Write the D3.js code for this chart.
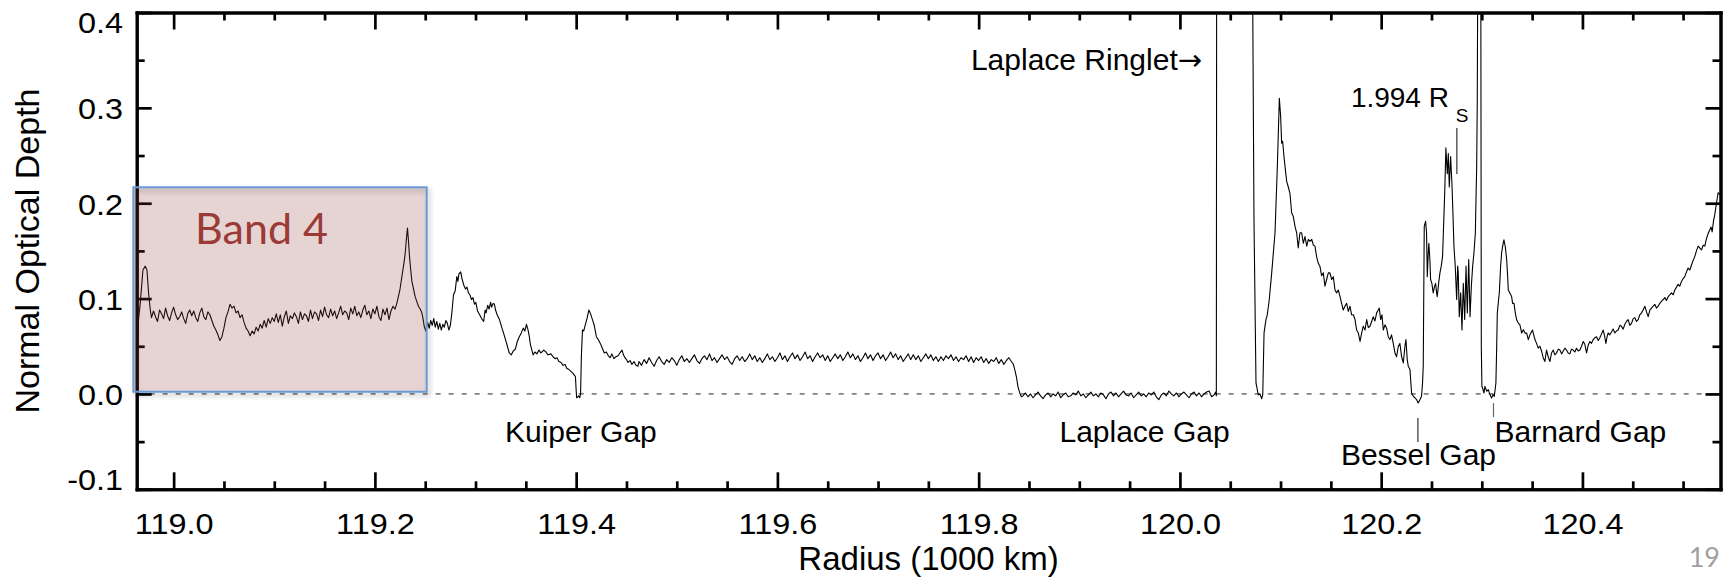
<!DOCTYPE html>
<html><head><meta charset="utf-8">
<script src="https://cdn.jsdelivr.net/npm/d3@7"></script>
<style>body{margin:0;background:#fff}svg{display:block}</style>
</head><body>
<svg id="c" width="1728" height="578"></svg>
<script>
// ---------- tick labels ----------
const xMajorTicks = [119.0,119.2,119.4,119.6,119.8,120.0,120.2,120.4];
const xMinorTicks = [119.05,119.10,119.15,119.25,119.30,119.35,119.45,119.50,119.55,119.65,119.70,119.75,119.85,119.90,119.95,120.05,120.10,120.15,120.25,120.30,120.35,120.45,120.50];
const yMajorTicks = [-0.1,0.0,0.1,0.2,0.3,0.4];
const yMinorTicks = [-0.05,0.05,0.15,0.25,0.35];

// ---------- profile (radius in 1000 km, normal optical depth) ----------
const innerEdge = [[118.9633,0.000],[118.9640,.040],[118.9651,.078],[118.9668,.095],[118.9695,.130],[118.9718,.134],[118.9735,.130],[118.9751,.106],[118.9768,.088]];

const band4Range = [118.978, 119.220];
const band4Tau = [.080,.087,.081,.076,.088,.084,.079,.090,.082,.077,.085,
 .091,.083,.078,.081,.086,.079,.074,.084,.088,.082,
 .087,.080,.076,.085,.090,.081,.078,.086,.083,.077,
 .071,.067,.062,.056,.060,.069,.080,.086,.094,.090,
 .092,.085,.087,.080,.083,.075,.069,.066,.061,.066,
 .063,.070,.066,.073,.069,.077,.070,.079,.074,.080,
 .076,.084,.075,.083,.071,.081,.087,.074,.082,.079,
 .085,.081,.074,.086,.078,.084,.082,.076,.088,.079,
 .086,.084,.077,.088,.081,.091,.083,.080,.089,.082,
 .087,.079,.085,.092,.083,.087,.085,.078,.090,.084,
 .092,.082,.086,.080,.088,.093,.083,.087,.079,.089,
 .084,.092,.081,.077,.089,.083,.090,.078,.087,.092,
 .089];

const outerBandToKuiper = [[119.2218,.095],[119.2250,.110],[119.2268,.123],[119.2290,.138],[119.2301,.147],[119.2315,.165],[119.2324,.174],[119.2334,.160],[119.2344,.144],[119.2356,.130],[119.2368,.118],[119.2384,.110],[119.2400,.102],[119.2416,.097],[119.2433,.092],[119.2450,.089],[119.2467,.085],[119.2480,.078],[119.2490,.071],[119.2506,.066],
[119.2525,.075],[119.2540,.069],[119.2555,.077],[119.2570,.072],[119.2585,.079],[119.2600,.070],[119.2615,.076],[119.2630,.068],[119.2645,.074],[119.2660,.067],[119.2675,.073],[119.2690,.070],[119.2705,.077],
[119.2720,.074],[119.2735,.067],[119.2750,.072],[119.2765,.085],[119.2781,.104],[119.2798,.108],[119.2814,.123],[119.2825,.118],[119.2835,.126],[119.2853,.128],[119.2865,.121],[119.2884,.114],[119.2900,.110],[119.2915,.112],[119.2930,.106],[119.2944,.104],[119.2960,.099],[119.2975,.101],[119.2990,.094],[119.3003,.096],[119.3020,.087],[119.3041,.083],[119.3060,.079],[119.3081,.076],[119.3095,.088],[119.3105,.085],[119.3121,.093],[119.3135,.089],[119.3150,.096],[119.3160,.091],[119.3175,.095],[119.3188,.094],[119.3199,.088],[119.3215,.083],[119.3238,.078],[119.3260,.070],[119.3278,.064],[119.3295,.058],[119.3317,.050],[119.3335,.043],[119.3356,.041],[119.3375,.045],[119.3396,.047],[119.3415,.055],[119.3435,.060],[119.3455,.064],[119.3474,.069],[119.3490,.066],[119.3506,.073],[119.3520,.068],[119.3535,.060],[119.3545,.052],[119.3560,.046],[119.3572,.041],[119.3590,.044],[119.3610,.042],[119.3631,.046],[119.3650,.043],[119.3678,.046],[119.3700,.044],[119.3720,.041],[119.3749,.042],[119.3770,.039],[119.3790,.037],[119.3810,.038],[119.3828,.034],[119.3850,.033],[119.3870,.030],[119.3890,.031],[119.3906,.027],[119.3925,.026],[119.3945,.024],[119.3965,.022],[119.3980,.020],[119.3993,.018],[119.4000,.004],[119.4005,-.004],[119.4015,-.003],[119.4024,-.002],[119.4035,-.004],[119.4044,.000],[119.4052,.040],[119.4063,.067],[119.4075,.066],[119.4085,.070],[119.4095,.074],[119.4110,.080],[119.4126,.088],[119.4140,.085],[119.4162,.078],[119.4180,.072],[119.4201,.060],[119.4220,.057],[119.4240,.053],[119.4260,.048],[119.4280,.043],[119.4300,.044],[119.4320,.040],[119.4338,.038],[119.4355,.042],[119.4375,.037],[119.4395,.039],[119.4417,.040],[119.4435,.043],[119.4456,.046],[119.4470,.041],[119.4485,.038],[119.4500,.036],[119.4515,.033],[119.4535,.035],[119.4555,.031],[119.4575,.034],[119.4595,.030],[119.4613,.029]];

const plateauRange = [119.4625, 119.8300];
const plateauTau = [.034,.030,.036,.032,.038,.033,.029,.035,.039,.034,
 .031,.036,.033,.038,.035,.030,.036,.040,.034,.037,
 .033,.037,.041,.035,.032,.037,.040,.036,.042,.035,
 .038,.033,.037,.041,.036,.039,.034,.031,.037,.040,
 .035,.039,.034,.037,.042,.036,.040,.034,.038,.033,
 .037,.042,.036,.039,.034,.038,.043,.036,.040,.034,
 .039,.043,.037,.041,.035,.039,.044,.037,.040,.034,
 .039,.043,.038,.041,.035,.040,.034,.038,.042,.037,
 .041,.035,.039,.044,.038,.042,.036,.040,.034,.038,
 .043,.037,.041,.035,.040,.043,.037,.041,.035,.039,
 .044,.038,.042,.036,.040,.034,.038,.042,.036,.041,
 .036,.040,.034,.038,.042,.037,.041,.035,.039,.034,
 .039,.035,.040,.037,.041,.035,.039,.034,.038,.036,
 .040,.034,.039,.033,.038,.035,.039,.033,.037,.032,
 .036,.034,.038,.032,.036,.031,.035,.038];

const plateauEdge = [[119.8325,.034],[119.8345,.031],[119.8360,.025],[119.8375,.018],[119.8390,.008],[119.8400,.004],[119.8412,.000],[119.8425,-.003]];

const laplaceGapRange = [119.844, 120.034];
const laplaceGapTau = [-.002,.001,-.003,.000,-.004,-.001,.002,-.002,-.005,-.001,
 .001,-.003,.000,-.002,.002,-.004,-.001,.001,-.003,-.002,
 .001,-.001,.003,-.002,.000,-.004,-.001,.002,-.002,.000,
 -.003,.001,-.001,-.005,.000,.002,-.002,.001,-.003,.000,
 .003,-.001,-.002,.001,-.004,-.001,.002,-.002,.000,-.003,
 .001,-.001,.002,-.003,-.006,-.001,.001,-.002,.003,.000,
 -.002,.001,-.003,.000,.002,-.001,-.004,.000,.002,-.002,
 .001,-.003,.000,.002,.003,-.003,-.001];

const ringletToBarnard = [[120.0355,.002],[120.0362,-.002],[120.0366,.6],[120.0713,.6],[120.0736,.183],[120.0756,.0115],[120.0779,-.001],[120.0796,.000],[120.0813,-.005],[120.0823,-.001],[120.0836,.064],[120.0855,.078],[120.0868,.083],[120.0888,.099],[120.0912,.127],[120.0945,.169],[120.0968,.238],[120.0988,.310],[120.1001,.291],[120.1011,.263],[120.1021,.265],[120.1034,.249],[120.1048,.235],[120.1061,.223],[120.1077,.217],[120.1094,.210],[120.1110,.190],[120.1127,.186],[120.1143,.176],[120.1160,.169],[120.1176,.153],[120.1193,.169],[120.1210,.169],[120.1226,.158],[120.1243,.165],[120.1260,.155],[120.1276,.162],[120.1293,.160],[120.1310,.162],[120.1326,.156],[120.1342,.155],[120.1358,.144],[120.1375,.137],[120.1391,.134],[120.1408,.124],[120.1425,.127],[120.1441,.113],[120.1458,.120],[120.1475,.127],[120.1491,.127],[120.1508,.120],[120.1524,.123],[120.1541,.109],[120.1557,.106],[120.1574,.109],[120.1591,.102],[120.1607,.095],[120.1623,.088],[120.1640,.092],[120.1657,.095],[120.1673,.0865],[120.1690,.092],[120.1706,.083],[120.1723,.083],[120.1740,.078],[120.1756,.067],[120.1773,.064],[120.1790,.055],[120.1806,.064],[120.1822,.071],[120.1839,.067],[120.1856,.078],[120.1872,.0695],[120.1889,.071],[120.1905,.076],[120.1922,.081],[120.1938,.0765],[120.1955,.085],[120.1971,.088],[120.1981,.090],
[120.1995,.078],[120.2008,.083],[120.2021,.067],[120.2038,.0725],[120.2054,.069],[120.2070,.060],[120.2087,.057],[120.2103,.062],[120.2120,.053],[120.2137,.043],[120.2153,.039],[120.2170,.050],[120.2186,.053],[120.2203,.039],[120.2220,.0325],[120.2236,.050],[120.2246,.057],[120.2259,.036],[120.2269,.029],[120.2286,.0255],[120.2302,.001],[120.2319,-.0025],[120.2335,-.004],[120.2352,-.006],[120.2368,-.0094],[120.2385,-.006],[120.2401,-.0025],[120.2411,.0115],[120.2418,.029],[120.2428,.1755],[120.2441,.181],[120.2451,.169],[120.2458,.123],[120.2468,.148],[120.2474,.158],[120.2484,.141],[120.2491,.120],[120.2504,.116],[120.2517,.106],[120.2531,.113],[120.2541,.116],[120.2551,.106],[120.2557,.102],[120.2571,.116],[120.2584,.127],[120.2597,.134],[120.2610,.144],[120.2620,.1756],[120.2633,.217],[120.2643,.258],[120.2657,.231],[120.2667,.252],[120.2677,.217],[120.2690,.249],[120.2703,.221],[120.2713,.190],[120.2723,.155],[120.2736,.134],[120.2750,.099],[120.2760,.134],[120.2766,.127],[120.2776,.081],[120.2790,.106],[120.2803,.067],[120.2816,.116],[120.2830,.078],[120.2843,.134],[120.2856,.085],[120.2870,.141],[120.2883,.081],[120.2896,.113],[120.2909,.134],[120.2922,.148],[120.2936,.169],[120.2942,.203],[120.2949,.238],[120.2955,.308],[120.2965,.6],[120.2988,.6],[120.2995,.050],[120.3001,.008],[120.3008,.006],[120.3021,.001],[120.3031,.008],[120.3048,.0028],[120.3064,.0045],[120.3081,-.0007],[120.3097,-.0042],[120.3111,-.0007],[120.3124,-.0025],[120.3140,.0115],[120.3147,.045],[120.3154,.085],[120.3167,.099],[120.3174,.106],[120.3187,.134],[120.3197,.148],[120.3207,.155],[120.3220,.1616],[120.3233,.1546],[120.3247,.141],[120.3257,.123],[120.3263,.109],[120.3280,.1057],[120.3296,.1023],[120.3306,.095],[120.3320,.095],[120.3333,.0848],[120.3346,.0778],[120.3363,.0743],[120.3379,.0725],[120.3396,.0638],[120.3412,.0673],[120.3429,.0638],[120.3446,.0638],[120.3462,.0569]];

const outerRamp = [[120.3478,.062],[120.3504,.067],[120.3528,.057],[120.3544,.053],[120.3561,.048],[120.3577,.050],[120.3594,.045],[120.3610,.038],[120.3627,.034],[120.3643,.046],[120.3660,.039],[120.3677,.034],[120.3693,.043],[120.3710,.046],[120.3726,.041],[120.3743,.043],[120.3760,.047],[120.3776,.046],[120.3793,.042],[120.3809,.045],[120.3826,.048],[120.3842,.046],[120.3858,.043],[120.3875,.042],[120.3891,.047],[120.3908,.046],[120.3925,.044],[120.3941,.048],[120.3958,.045],[120.3975,.046],[120.3991,.050],[120.4008,.055],[120.4024,.052],[120.4041,.043],[120.4057,.051],[120.4074,.055],[120.4090,.053],[120.4107,.057],[120.4124,.059],[120.4140,.060],[120.4157,.056],[120.4173,.059],[120.4190,.063],[120.4206,.067],[120.4220,.061],[120.4233,.053],[120.4245,.060],[120.4256,.064],[120.4272,.062],[120.4289,.065],[120.4305,.068],[120.4322,.064],[120.4338,.066],[120.4355,.067],[120.4372,.072],[120.4388,.071],[120.4405,.068],[120.4421,.073],[120.4438,.076],[120.4454,.078],[120.4471,.072],[120.4488,.074],[120.4504,.079],[120.4521,.080],[120.4537,.076],[120.4554,.078],[120.4570,.083],[120.4587,.085],[120.4603,.088],[120.4620,.092],[120.4637,.086],[120.4653,.081],[120.4670,.088],[120.4686,.090],[120.4703,.092],[120.4719,.094],[120.4736,.090],[120.4752,.092],[120.4769,.095],[120.4785,.097],[120.4802,.099],[120.4819,.101],[120.4835,.098],[120.4852,.102],[120.4868,.104],[120.4885,.106],[120.4902,.104],[120.4918,.109],[120.4935,.112],[120.4951,.115],[120.4968,.113],[120.4984,.118],[120.5001,.121],[120.5017,.123],[120.5034,.128],[120.5050,.132],[120.5067,.130],[120.5083,.135],[120.5100,.140],[120.5116,.144],[120.5133,.150],[120.5150,.155],[120.5167,.153],[120.5183,.151],[120.5200,.156],[120.5216,.155],[120.5228,.161],[120.5239,.165],[120.5252,.169],[120.5265,.172],[120.5278,.175],[120.5289,.170],[120.5302,.181],[120.5315,.188],[120.5332,.200],[120.5348,.211],[120.5365,.209]];

// ---------- chart ----------
const svg = d3.select("#c");
svg.append("rect").attr("width",1728).attr("height",578).attr("fill","#fff");
const M = {left:136.7, right:1720.5, top:12.5, bottom:489.3};
const x = d3.scaleLinear().domain([118.9633,120.5372]).range([M.left,M.right]);
const y = d3.scaleLinear().domain([-0.1,0.4]).range([M.bottom,M.top]);
const FONT = "'Liberation Sans', Arial, Helvetica, sans-serif";

function grid(range, vals){
  const n = vals.length;
  return vals.map((t,i)=>[range[0] + (range[1]-range[0])*i/(n-1), t]);
}
const profile = [].concat(innerEdge, grid(band4Range, band4Tau), outerBandToKuiper,
  grid(plateauRange, plateauTau), plateauEdge, grid(laplaceGapRange, laplaceGapTau),
  ringletToBarnard, outerRamp);

const defs = svg.append("defs");
defs.append("clipPath").attr("id","plotclip").append("rect")
  .attr("x",M.left).attr("y",M.top).attr("width",M.right-M.left).attr("height",M.bottom-M.top);
const f = defs.append("filter").attr("id","shadow").attr("x","-10%").attr("y","-10%").attr("width","130%").attr("height","130%");
f.append("feDropShadow").attr("dx",2).attr("dy",3).attr("stdDeviation",2.5).attr("flood-color","#000").attr("flood-opacity",0.3);

// zero line
svg.append("line").attr("x1",M.left).attr("x2",M.right).attr("y1",y(0)).attr("y2",y(0))
  .attr("stroke","#222").attr("stroke-width",1).attr("stroke-dasharray","5,8");

// profile line
svg.append("path").datum(profile)
  .attr("clip-path","url(#plotclip)")
  .attr("fill","none").attr("stroke","#000").attr("stroke-width",1.1).attr("stroke-linejoin","round")
  .attr("d", d3.line().x(d=>x(d[0])).y(d=>y(d[1])));

// axes
function styleAxis(g){
  g.select(".domain").attr("stroke","#000").attr("stroke-width",3).attr("stroke-linecap","square");
  g.selectAll(".tick line").attr("stroke","#000").attr("stroke-width",2.7);
}
const fmt = d => d.toFixed(1);
// bottom
const gb = svg.append("g").attr("transform",`translate(0,${M.bottom})`)
  .call(d3.axisBottom(x).tickValues(xMajorTicks).tickSizeInner(-17).tickSizeOuter(0).tickFormat(fmt));
styleAxis(gb);
gb.selectAll(".tick text").attr("y",44.7).attr("dy",null)
  .attr("font-family",FONT).attr("font-size",30).attr("fill","#000")
  .attr("transform","scale(1.08,1)");
const gbm = svg.append("g").attr("transform",`translate(0,${M.bottom})`)
  .call(d3.axisBottom(x).tickValues(xMinorTicks).tickSizeInner(-8).tickSizeOuter(0).tickFormat(""));
styleAxis(gbm);
// top
const gt = svg.append("g").attr("transform",`translate(0,${M.top})`)
  .call(d3.axisTop(x).tickValues(xMajorTicks).tickSizeInner(-17).tickSizeOuter(0).tickFormat(""));
styleAxis(gt);
const gtm = svg.append("g").attr("transform",`translate(0,${M.top})`)
  .call(d3.axisTop(x).tickValues(xMinorTicks).tickSizeInner(-8).tickSizeOuter(0).tickFormat(""));
styleAxis(gtm);
// left
const gl = svg.append("g").attr("transform",`translate(${M.left},0)`)
  .call(d3.axisLeft(y).tickValues(yMajorTicks).tickSizeInner(-15).tickSizeOuter(0).tickFormat(fmt));
styleAxis(gl);
gl.selectAll(".tick text").attr("x",-13.7/1.08).attr("dy","0.36em")
  .attr("font-family",FONT).attr("font-size",30).attr("fill","#000").attr("text-anchor","end")
  .attr("transform",d => `translate(0,${d===0.4?9.5:(d===-0.1?-10.8:0)}) scale(1.08,1)`);
const glm = svg.append("g").attr("transform",`translate(${M.left},0)`)
  .call(d3.axisLeft(y).tickValues(yMinorTicks).tickSizeInner(-8).tickSizeOuter(0).tickFormat(""));
styleAxis(glm);
// right
const gr = svg.append("g").attr("transform",`translate(${M.right},0)`)
  .call(d3.axisRight(y).tickValues(yMajorTicks).tickSizeInner(-15).tickSizeOuter(0).tickFormat(""));
styleAxis(gr);
const grm = svg.append("g").attr("transform",`translate(${M.right},0)`)
  .call(d3.axisRight(y).tickValues(yMinorTicks).tickSizeInner(-8).tickSizeOuter(0).tickFormat(""));
styleAxis(grm);

// axis titles
svg.append("text").attr("x",(M.left+M.right)/2).attr("y",570).attr("text-anchor","middle")
  .attr("font-family",FONT).attr("font-size",33).attr("fill","#000")
  .text("Radius (1000 km)");
svg.append("text").attr("transform","translate(38.5,251) rotate(-90)").attr("text-anchor","middle")
  .attr("font-family",FONT).attr("font-size",34).attr("fill","#000")
  .text("Normal Optical Depth");

// annotations
function label(r, t, txt, size){
  return svg.append("text").attr("x",x(r)).attr("y",y(t)).attr("font-family",FONT)
    .attr("font-size",size||30).attr("fill","#000").text(txt);
}
const lr = label(119.7923, 0.3397, "Laplace Ringlet");
lr.append("tspan").attr("font-family","'DejaVu Sans', sans-serif").attr("font-size",29).text("\u2192");
label(119.3293, -0.0504, "Kuiper Gap");
label(119.8803, -0.0504, "Laplace Gap");
label(120.1600, -0.0746, "Bessel Gap");
label(120.3126, -0.0504, "Barnard Gap");
label(120.1699, 0.3005, "1.994 R", 28);
label(120.2742, 0.2854, "S", 19);
function tickMark(r, t1, t2, col){
  svg.append("line").attr("x1",x(r)).attr("x2",x(r)).attr("y1",y(t1)).attr("y2",y(t2))
    .attr("stroke",col).attr("stroke-width",1.2);
}
tickMark(120.2752, 0.2788, 0.2306, "#333");
tickMark(120.2365, -0.0253, -0.0504, "#333");
tickMark(120.3116, -0.0096, -0.0242, "#666");

// Band 4 box
const bx0 = x(118.9600), bx1 = x(119.2515), by0 = y(0.2167), by1 = y(0.0023);
svg.append("rect").attr("x",bx0).attr("y",by0).attr("width",bx1-bx0).attr("height",by1-by0)
  .attr("fill","rgba(140,60,55,0.22)");
svg.append("rect").attr("x",bx0).attr("y",by0).attr("width",bx1-bx0).attr("height",by1-by0)
  .attr("fill","none").attr("stroke","#6a9ad6").attr("stroke-width",2)
  .attr("filter","url(#shadow)");
svg.append("text").attr("x",x(119.0213)).attr("y",y(0.1572))
  .attr("font-family","Lato, 'Open Sans', sans-serif").attr("font-size",43).attr("fill","#9b3a37")
  .text("Band 4");

// slide number
svg.append("text").attr("x",1720).attr("y",567).attr("text-anchor","end")
  .attr("font-family","Lato, 'Open Sans', sans-serif").attr("font-size",27).attr("fill","#a0a0a0")
  .text("19");
</script>
</body></html>
